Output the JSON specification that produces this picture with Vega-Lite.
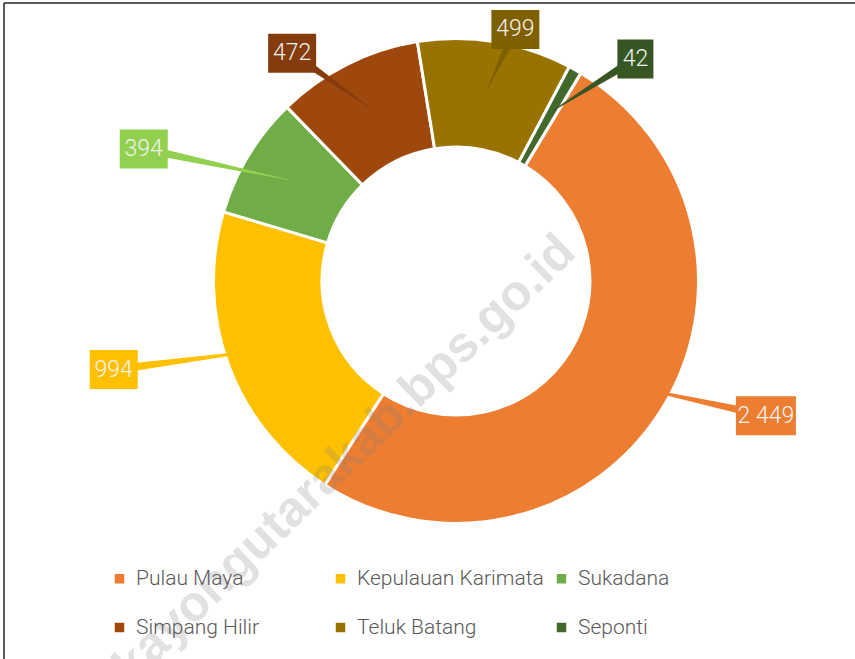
{
  "$schema": "https://vega.github.io/schema/vega-lite/v6.json",
  "width": 904,
  "height": 656,
  "autosize": {"type": "none"},
  "padding": {"left": 4, "top": 3, "right": -53, "bottom": 0},
  "background": "white",
  "config": {
    "view": {"stroke": "#262626", "strokeWidth": 1.5, "strokeDash": [904, 1560, 656, 0]},
    "locale": {"number": {"decimal": ",", "thousands": " ", "grouping": [3], "currency": ["", ""]}}
  },
  "datasets": {
    "penduduk": [
      {"Kecamatan": "Pulau Maya", "value": 2449, "idx": 1},
      {"Kecamatan": "Kepulauan Karimata", "value": 994, "idx": 2},
      {"Kecamatan": "Sukadana", "value": 394, "idx": 3},
      {"Kecamatan": "Simpang Hilir", "value": 472, "idx": 4},
      {"Kecamatan": "Teluk Batang", "value": 499, "idx": 5},
      {"Kecamatan": "Seponti", "value": 42, "idx": 6}
    ]
  },
  "data": {"name": "penduduk"},
  "layer": [
    {
      "mark": {"type": "arc", "innerRadius": 134, "outerRadius": 242.5, "stroke": "white", "strokeWidth": 3},
      "encoding": {
        "x": {"datum": 0, "type": "quantitative", "scale": {"domain": [-452, 452], "nice": false, "zero": false}, "axis": null},
        "y": {"datum": 0, "type": "quantitative", "scale": {"domain": [-378, 278], "nice": false, "zero": false}, "axis": null},
        "theta": {"field": "value", "type": "quantitative", "stack": true, "scale": {"range": [0.541, 6.824]}},
        "order": {"field": "idx", "type": "quantitative"},
        "color": {
          "field": "Kecamatan", "type": "nominal",
          "scale": {
            "domain": ["Pulau Maya", "Kepulauan Karimata", "Sukadana", "Simpang Hilir", "Teluk Batang", "Seponti"],
            "range": ["#ED7D31", "#FFC000", "#70AD47", "#9E480E", "#997300", "#43682B"]
          },
          "legend": {
            "orient": "none", "legendX": 105, "legendY": 565, "columns": 3, "direction": "horizontal",
            "title": null, "symbolType": "square", "symbolSize": 90, "symbolStrokeWidth": 0,
            "labelFontSize": 21, "labelFont": "Roboto", "labelFontWeight": 300, "labelColor": "#595959",
            "columnPadding": 7, "rowPadding": 27, "gridAlign": "all", "labelOffset": 6, "labelLimit": 300, "padding": 0
          }
        }
      }
    },
    {
      "transform": [
        {"window": [{"op": "sum", "field": "value", "as": "cum"}], "sort": [{"field": "idx", "order": "ascending"}], "frame": [null, 0]},
        {"joinaggregate": [{"op": "sum", "field": "value", "as": "total"}]},
        {"calculate": "0.541 + 2 * PI * (datum.cum - datum.value / 2) / datum.total", "as": "ang"},
        {"calculate": "365 * sin(datum.ang)", "as": "lx"},
        {"calculate": "255 * cos(datum.ang)", "as": "ly"},
        {"calculate": "195 * sin(datum.ang)", "as": "ix"},
        {"calculate": "195 * cos(datum.ang)", "as": "iy"},
        {"fold": ["ix", "lx"], "as": ["end", "coord"]},
        {"calculate": "datum.end == 'ix' ? datum.ix : datum.lx", "as": "px"},
        {"calculate": "datum.end == 'ix' ? datum.iy : datum.ly", "as": "py"},
        {"calculate": "datum.end == 'ix' ? 0 : 1", "as": "tw"}
      ],
      "mark": {"type": "trail"},
      "encoding": {
        "x": {"field": "px", "type": "quantitative", "scale": {"domain": [-452, 452], "nice": false, "zero": false}, "axis": null},
        "y": {"field": "py", "type": "quantitative", "scale": {"domain": [-378, 278], "nice": false, "zero": false}, "axis": null},
        "order": {"field": "tw", "type": "quantitative"},
        "size": {"field": "tw", "type": "quantitative", "scale": {"domain": [0, 1], "range": [0.5, 9]}, "legend": null},
        "color": {
          "field": "Kecamatan", "type": "nominal",
          "scale": {
            "domain": ["Pulau Maya", "Kepulauan Karimata", "Sukadana", "Simpang Hilir", "Teluk Batang", "Seponti"],
            "range": ["#ED7D31", "#FFC000", "#92D050", "#843C0C", "#7F6000", "#375623"]
          },
          "legend": null
        }
      }
    },
    {
      "transform": [
        {"window": [{"op": "sum", "field": "value", "as": "cum"}], "sort": [{"field": "idx", "order": "ascending"}], "frame": [null, 0]},
        {"joinaggregate": [{"op": "sum", "field": "value", "as": "total"}]},
        {"calculate": "0.541 + 2 * PI * (datum.cum - datum.value / 2) / datum.total", "as": "ang"},
        {"calculate": "365 * sin(datum.ang)", "as": "lx"},
        {"calculate": "255 * cos(datum.ang)", "as": "ly"},
        {"calculate": "6 * length(toString(datum.value)) + 6", "as": "hw"},
        {"calculate": "datum.lx - datum.hw", "as": "bx0"},
        {"calculate": "datum.lx + datum.hw", "as": "bx1"},
        {"calculate": "datum.ly - 19.5", "as": "by0"},
        {"calculate": "datum.ly + 19.5", "as": "by1"}
      ],
      "mark": {"type": "rect"},
      "encoding": {
        "x": {"field": "bx0", "type": "quantitative", "scale": {"domain": [-452, 452], "nice": false, "zero": false}, "axis": null},
        "x2": {"field": "bx1"},
        "y": {"field": "by0", "type": "quantitative", "scale": {"domain": [-378, 278], "nice": false, "zero": false}, "axis": null},
        "y2": {"field": "by1"},
        "color": {
          "field": "Kecamatan", "type": "nominal",
          "scale": {
            "domain": ["Pulau Maya", "Kepulauan Karimata", "Sukadana", "Simpang Hilir", "Teluk Batang", "Seponti"],
            "range": ["#ED7D31", "#FFC000", "#92D050", "#843C0C", "#7F6000", "#375623"]
          },
          "legend": null
        }
      }
    },
    {
      "transform": [
        {"window": [{"op": "sum", "field": "value", "as": "cum"}], "sort": [{"field": "idx", "order": "ascending"}], "frame": [null, 0]},
        {"joinaggregate": [{"op": "sum", "field": "value", "as": "total"}]},
        {"calculate": "0.541 + 2 * PI * (datum.cum - datum.value / 2) / datum.total", "as": "ang"},
        {"calculate": "365 * sin(datum.ang)", "as": "lx"},
        {"calculate": "255 * cos(datum.ang)", "as": "ly"}
      ],
      "mark": {"type": "text", "font": "Roboto", "fontWeight": 300, "fontSize": 23, "baseline": "middle", "align": "center", "fill": "#F2F2F2"},
      "encoding": {
        "x": {"field": "lx", "type": "quantitative", "scale": {"domain": [-452, 452], "nice": false, "zero": false}, "axis": null},
        "y": {"field": "ly", "type": "quantitative", "scale": {"domain": [-378, 278], "nice": false, "zero": false}, "axis": null},
        "text": {"field": "value", "type": "quantitative", "format": ",d"}
      }
    },
    {
      "data": {"values": [{"watermark": "https://kayongutarakab.bps.go.id"}]},
      "mark": {"type": "text", "angle": -44, "align": "right", "baseline": "alphabetic", "dx": 106, "dy": 66, "font": "Liberation Sans", "fontWeight": "bold", "fontSize": 50, "fill": "#808080", "opacity": 0.23},
      "encoding": {
        "x": {"datum": 0, "type": "quantitative", "scale": {"domain": [-452, 452], "nice": false, "zero": false}, "axis": null},
        "y": {"datum": 0, "type": "quantitative", "scale": {"domain": [-378, 278], "nice": false, "zero": false}, "axis": null},
        "text": {"field": "watermark", "type": "nominal"}
      }
    }
  ],
  "resolve": {"scale": {"color": "independent"}}
}
